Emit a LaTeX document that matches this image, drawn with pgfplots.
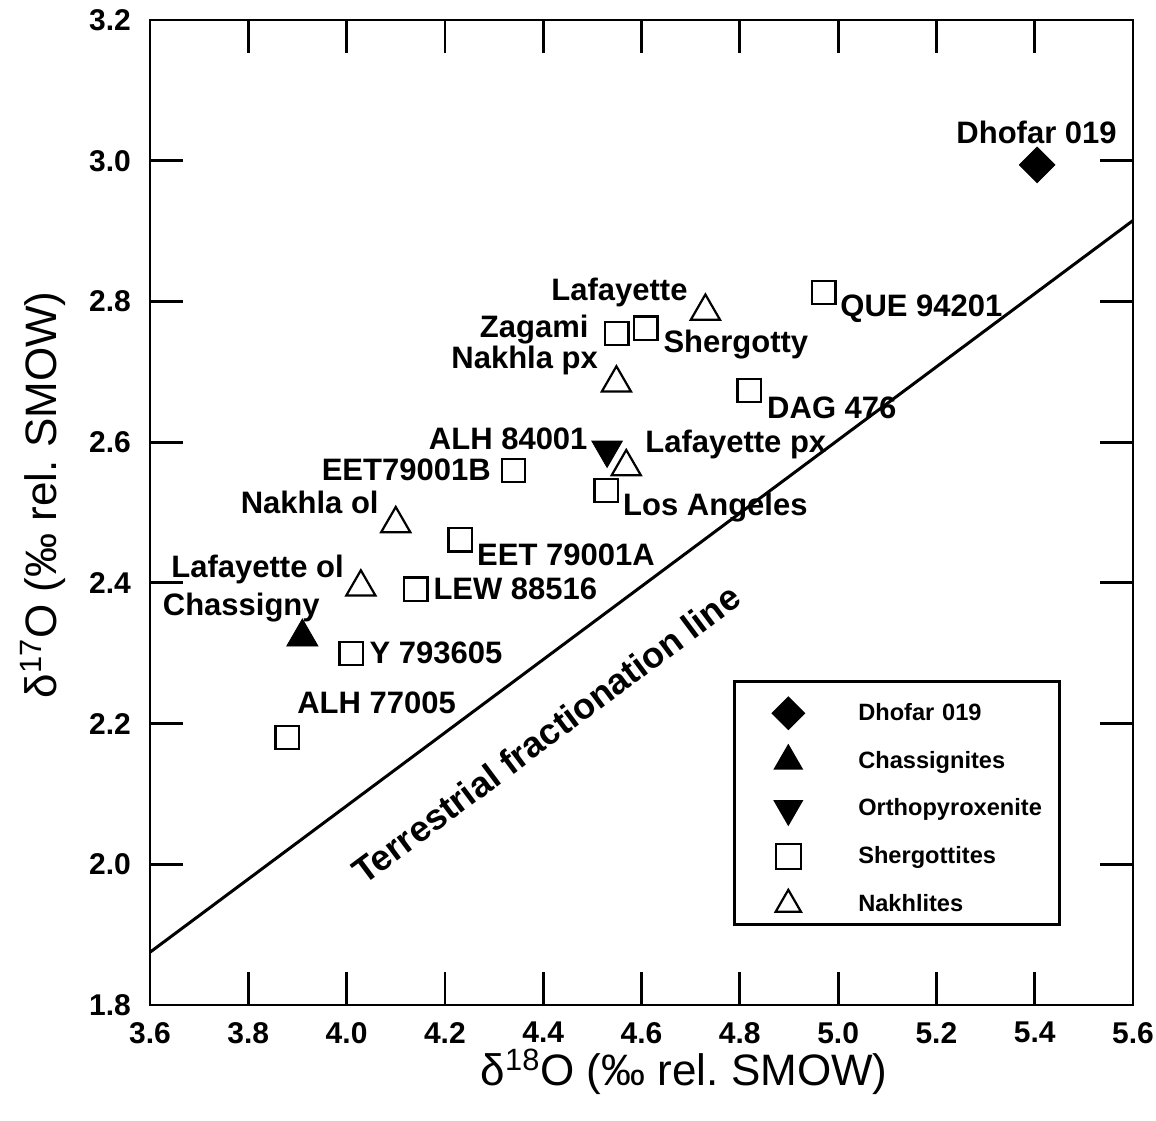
\documentclass[border=0pt]{standalone}
\usepackage{fontspec}
\setmainfont{Liberation Sans}
\usepackage{pgfplots}
\pgfplotsset{compat=1.18}
\pgfplotsset{lgimg/.style={legend image code/.code={\path[draw=none,fill=none] (-27pt,-8.9pt) rectangle (27pt,15pt); \draw[##1, every mark/.append style={scale=#1}] plot coordinates {(0pt,0pt)};}}}
\begin{document}
\begin{tikzpicture}[lbl/.style={font=\fontsize{15.5}{18}\selectfont\bfseries, inner sep=0pt}]
\begin{axis}[
  name=minor,
  scale only axis, width=491.5pt, height=492.5pt,
  xmin=3.6, xmax=5.6, ymin=1.8, ymax=3.2,
  xtick=\empty, ytick=\empty,
  minor xtick={3.7,3.9,4.1,4.3,4.5,4.7,4.9,5.1,5.3,5.5},
  minor ytick={1.9,2.1,2.3,2.5,2.7,2.9,3.1},
  xtick pos=right, ytick pos=right,
  tick align=inside, minor tick length=8.5pt,
  every tick/.style={line width=1.4pt, black},
  axis line style={line width=1.4pt},
]
\end{axis}
\begin{axis}[
  name=main,
  scale only axis, width=491.5pt, height=492.5pt,
  xmin=3.6, xmax=5.6, ymin=1.8, ymax=3.2,
  clip=false,
  axis line style={line width=1.4pt},
  every tick/.style={line width=1.4pt, black},
  tick align=inside,
  major tick length=16.5pt,
  xtick={3.6,3.8,4.0,4.2,4.4,4.6,4.8,5.0,5.2,5.4,5.6},
  ytick={1.8,2.0,2.2,2.4,2.6,2.8,3.0,3.2},
  xtick pos=both, ytick pos=both,
  ticklabel style={font=\fontsize{15}{18}\selectfont\bfseries},
  xticklabel style={yshift=-5pt},
  yticklabel style={xshift=-6pt},
  /pgf/number format/.cd, fixed, fixed zerofill, precision=1, assume math mode=true, /pgfplots/.cd,
  xlabel={δ\textsuperscript{18}O (‰ rel.\ SMOW)},
  ylabel={δ\textsuperscript{17}O (‰ rel.\ SMOW)},
  label style={font=\fontsize{22}{26}\selectfont, inner sep=0pt},
  xlabel style={at={(axis description cs:0.5433,-0.068)}, anchor=center},
  ylabel style={at={(axis description cs:-0.1088,0.518)}, anchor=center},
  legend cell align=left,
  legend style={at={(rel axis cs:0.5931,0.3300)}, anchor=north west, draw=black, line width=1.3pt, fill=white,
    inner xsep=0pt, inner ysep=1pt, column sep=8pt, row sep=0pt,
    font=\fontsize{11.8}{14}\selectfont\bfseries,
    nodes={draw=none, fill=none, inner sep=0pt, text width=100.5pt, align=left}},
]
\addplot[only marks, black, mark=square*, mark size=6.3pt, mark options={rotate=45, fill=black}, lgimg=0.85] coordinates {(5.405,2.994)};
\addlegendentry{Dhofar 019}
\addplot[only marks, black, mark=triangle*, mark size=9pt, mark options={fill=black}, lgimg=0.82] coordinates {(3.910,2.323)};
\addlegendentry{Chassignites}
\addplot[only marks, black, mark=triangle*, mark size=8.8pt, mark options={rotate=180, fill=black}, lgimg=0.84] coordinates {(4.530,2.589)};
\addlegendentry{Orthopyroxenite}
\addplot[only marks, black, mark=square, mark size=5.8pt, line width=1.1pt, lgimg=1.08] table {
4.971 2.813
4.550 2.754
4.609 2.762
4.819 2.673
4.340 2.560
4.528 2.531
4.231 2.461
4.141 2.391
4.009 2.300
3.879 2.180
};
\addlegendentry{Shergottites}
\addplot[only marks, black, mark=triangle, mark size=8.4pt, line width=1.1pt, lgimg=0.87] table {
4.730 2.786
4.549 2.684
4.569 2.565
4.100 2.484
4.029 2.394
};
\addlegendentry{Nakhlites}
\addplot[no marks, black, line width=1.5pt, forget plot] coordinates {(3.6,1.875) (5.6,2.915)};
\node[lbl, anchor=base west] at (axis cs:5.240,3.025) {Dhofar 019};
\node[lbl, anchor=base west] at (axis cs:4.416,2.801) {Lafayette};
\node[lbl, anchor=base east] at (axis cs:4.493,2.749) {Zagami};
\node[lbl, anchor=base west] at (axis cs:4.644,2.727) {Shergotty};
\node[lbl, anchor=base east] at (axis cs:4.512,2.705) {Nakhla px};
\node[lbl, anchor=base west] at (axis cs:5.004,2.778) {QUE 94201};
\node[lbl, anchor=base west] at (axis cs:4.855,2.634) {DAG 476};
\node[lbl, anchor=base west] at (axis cs:4.607,2.585) {Lafayette px};
\node[lbl, anchor=base east] at (axis cs:4.491,2.589) {ALH 84001};
\node[lbl, anchor=base west] at (axis cs:4.562,2.496) {Los Angeles};
\node[lbl, anchor=base east] at (axis cs:4.294,2.546) {EET79001B};
\node[lbl, anchor=base east] at (axis cs:4.066,2.499) {Nakhla ol};
\node[lbl, anchor=base west] at (axis cs:4.265,2.424) {EET 79001A};
\node[lbl, anchor=base east] at (axis cs:3.995,2.408) {Lafayette ol};
\node[lbl, anchor=base east] at (axis cs:3.946,2.354) {Chassigny};
\node[lbl, anchor=base west] at (axis cs:4.176,2.376) {LEW 88516};
\node[lbl, anchor=base west] at (axis cs:4.046,2.286) {Y 793605};
\node[lbl, anchor=base west] at (axis cs:3.899,2.215) {ALH 77005};
\node[font=\fontsize{18}{21}\selectfont\bfseries, inner sep=0pt, rotate=36.7] at (axis cs:4.406,2.185) {Terrestrial fractionation line};
\end{axis}
\pgfresetboundingbox
\path ([xshift=-75pt, yshift=-57.5pt]main.south west) rectangle ([xshift=11.5pt, yshift=10pt]main.north east);
\end{tikzpicture}
\end{document}
